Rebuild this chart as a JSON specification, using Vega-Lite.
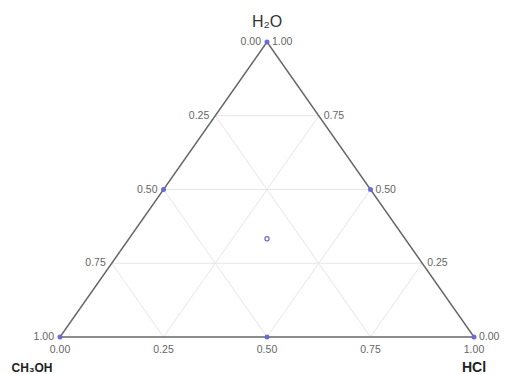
{
  "$schema": "https://vega.github.io/schema/vega-lite/v6.json",
  "width": 506,
  "height": 374,
  "autosize": "none",
  "padding": 0,
  "background": "white",
  "config": {"view": {"stroke": null}},
  "datasets": {
    "grid": [
      {"x": 0.125, "y": 0.25, "x2": 0.875, "y2": 0.25},
      {"x": 0.25, "y": 0.5, "x2": 0.75, "y2": 0.5},
      {"x": 0.375, "y": 0.75, "x2": 0.625, "y2": 0.75},
      {"x": 0.25, "y": 0, "x2": 0.625, "y2": 0.75},
      {"x": 0.5, "y": 0, "x2": 0.75, "y2": 0.5},
      {"x": 0.75, "y": 0, "x2": 0.875, "y2": 0.25},
      {"x": 0.75, "y": 0, "x2": 0.375, "y2": 0.75},
      {"x": 0.5, "y": 0, "x2": 0.25, "y2": 0.5},
      {"x": 0.25, "y": 0, "x2": 0.125, "y2": 0.25}
    ],
    "edges": [
      {"x": 0, "y": 0, "x2": 1, "y2": 0},
      {"x": 0, "y": 0, "x2": 0.5, "y2": 1},
      {"x": 1, "y": 0, "x2": 0.5, "y2": 1}
    ],
    "leftLabels": [
      {"x": 0.5, "y": 1, "label": "0.00"},
      {"x": 0.375, "y": 0.75, "label": "0.25"},
      {"x": 0.25, "y": 0.5, "label": "0.50"},
      {"x": 0.125, "y": 0.25, "label": "0.75"},
      {"x": 0, "y": 0, "label": "1.00"}
    ],
    "rightLabels": [
      {"x": 0.5, "y": 1, "label": "1.00"},
      {"x": 0.625, "y": 0.75, "label": "0.75"},
      {"x": 0.75, "y": 0.5, "label": "0.50"},
      {"x": 0.875, "y": 0.25, "label": "0.25"},
      {"x": 1, "y": 0, "label": "0.00"}
    ],
    "bottomLabels": [
      {"x": 0, "y": 0, "label": "0.00"},
      {"x": 0.25, "y": 0, "label": "0.25"},
      {"x": 0.5, "y": 0, "label": "0.50"},
      {"x": 0.75, "y": 0, "label": "0.75"},
      {"x": 1, "y": 0, "label": "1.00"}
    ],
    "vertices": [
      {"x": 0.5, "y": 1, "label": "H₂O"},
      {"x": 0, "y": 0, "label": "CH₃OH"},
      {"x": 1, "y": 0, "label": "HCl"}
    ],
    "points": [
      {"x": 0, "y": 0},
      {"x": 1, "y": 0},
      {"x": 0.5, "y": 1},
      {"x": 0.25, "y": 0.5},
      {"x": 0.75, "y": 0.5},
      {"x": 0.5, "y": 0}
    ],
    "open": [
      {"x": 0.5, "y": 0.333}
    ]
  },
  "layer": [
    {
      "data": {"name": "grid"},
      "mark": {"type": "rule", "color": "#e6e6e6", "strokeWidth": 1},
      "encoding": {
        "x": {"field": "x", "type": "quantitative", "scale": {"domain": [0, 1], "range": [60, 474], "nice": false, "zero": false}, "axis": null},
        "y": {"field": "y", "type": "quantitative", "scale": {"domain": [0, 1], "range": [337, 42], "nice": false, "zero": false}, "axis": null},
        "x2": {"field": "x2"},
        "y2": {"field": "y2"}
      }
    },
    {
      "data": {"name": "edges"},
      "mark": {"type": "rule", "color": "#666666", "strokeWidth": 1.4},
      "encoding": {
        "x": {"field": "x", "type": "quantitative", "axis": null},
        "y": {"field": "y", "type": "quantitative", "axis": null},
        "x2": {"field": "x2"},
        "y2": {"field": "y2"}
      }
    },
    {
      "data": {"name": "leftLabels"},
      "mark": {"type": "text", "align": "right", "baseline": "middle", "dx": -6, "fontSize": 10.5, "font": "Liberation Sans", "color": "#666666"},
      "encoding": {
        "x": {"field": "x", "type": "quantitative"},
        "y": {"field": "y", "type": "quantitative"},
        "text": {"field": "label"}
      }
    },
    {
      "data": {"name": "rightLabels"},
      "mark": {"type": "text", "align": "left", "baseline": "middle", "dx": 5, "fontSize": 10.5, "font": "Liberation Sans", "color": "#666666"},
      "encoding": {
        "x": {"field": "x", "type": "quantitative"},
        "y": {"field": "y", "type": "quantitative"},
        "text": {"field": "label"}
      }
    },
    {
      "data": {"name": "bottomLabels"},
      "mark": {"type": "text", "align": "center", "baseline": "middle", "dy": 13, "fontSize": 10.5, "font": "Liberation Sans", "color": "#666666"},
      "encoding": {
        "x": {"field": "x", "type": "quantitative"},
        "y": {"field": "y", "type": "quantitative"},
        "text": {"field": "label"}
      }
    },
    {
      "data": {"name": "vertices"},
      "transform": [{"filter": "datum.label == 'H₂O'"}],
      "mark": {"type": "text", "align": "center", "baseline": "middle", "dy": -20, "fontSize": 16, "font": "Liberation Sans", "color": "#333333"},
      "encoding": {
        "x": {"field": "x", "type": "quantitative"},
        "y": {"field": "y", "type": "quantitative"},
        "text": {"field": "label"}
      }
    },
    {
      "data": {"name": "vertices"},
      "transform": [{"filter": "datum.label == 'CH₃OH'"}],
      "mark": {"type": "text", "align": "center", "baseline": "middle", "dx": -28, "dy": 31, "fontSize": 12, "fontWeight": "bold", "font": "Liberation Sans", "color": "#222222"},
      "encoding": {
        "x": {"field": "x", "type": "quantitative"},
        "y": {"field": "y", "type": "quantitative"},
        "text": {"field": "label"}
      }
    },
    {
      "data": {"name": "vertices"},
      "transform": [{"filter": "datum.label == 'HCl'"}],
      "mark": {"type": "text", "align": "center", "baseline": "middle", "dx": 0, "dy": 31, "fontSize": 14, "fontWeight": "bold", "font": "Liberation Sans", "color": "#222222"},
      "encoding": {
        "x": {"field": "x", "type": "quantitative"},
        "y": {"field": "y", "type": "quantitative"},
        "text": {"field": "label"}
      }
    },
    {
      "data": {"name": "points"},
      "mark": {"type": "point", "shape": "circle", "filled": true, "size": 25, "color": "#6b6bd6", "opacity": 1},
      "encoding": {
        "x": {"field": "x", "type": "quantitative"},
        "y": {"field": "y", "type": "quantitative"}
      }
    },
    {
      "data": {"name": "open"},
      "mark": {"type": "point", "shape": "circle", "filled": false, "size": 18, "color": "#6b6bd6", "strokeWidth": 1.2, "opacity": 1},
      "encoding": {
        "x": {"field": "x", "type": "quantitative"},
        "y": {"field": "y", "type": "quantitative"}
      }
    }
  ]
}
